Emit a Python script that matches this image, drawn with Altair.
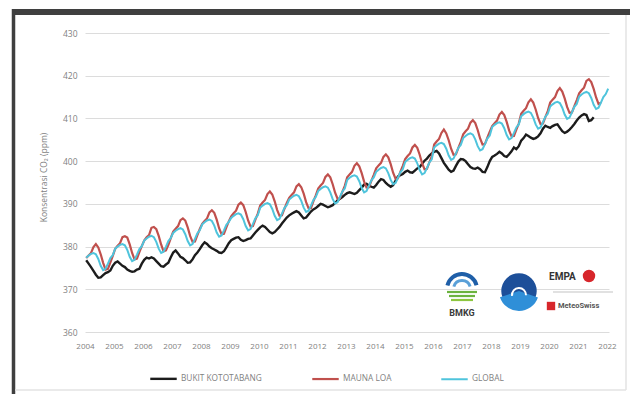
import altair as alt
import pandas as pd

# Monthly mean CO2 (ppm), first value = January 2004
START_YEAR = 2004

bukit_kototabang = [
    376.8, 376.0, 375.2, 374.3, 373.4, 372.7, 372.8, 373.3, 373.8, 374.0, 374.4, 375.5,
    376.2, 376.5, 376.0, 375.5, 375.2, 374.6, 374.3, 374.1, 374.2, 374.6, 374.8, 376.0,
    376.9, 377.4, 377.2, 377.5, 377.2, 376.6, 376.0, 375.4, 375.3, 375.8, 376.2, 377.5,
    378.6, 379.1, 378.4, 377.6, 377.3, 376.8, 376.2, 376.3, 377.0, 378.0, 378.6, 379.4,
    380.3, 381.0, 380.6, 380.0, 379.6, 379.3, 379.0, 378.6, 378.5, 378.9, 379.8, 380.8,
    381.5, 381.8, 382.1, 382.2, 381.6, 381.3, 381.5, 381.8, 381.9, 382.6, 383.3, 383.9,
    384.5, 384.9, 384.6, 384.0, 383.4, 383.1, 383.4, 384.0, 384.6, 385.4, 386.1, 386.8,
    387.3, 387.7, 388.0, 388.3, 388.0, 387.3, 386.6, 386.8, 387.5, 388.2, 388.7, 389.0,
    389.5, 390.0, 389.8, 389.5, 389.2, 389.4, 389.7, 390.2, 390.8, 391.2, 391.6, 392.1,
    392.5, 392.7, 392.5, 392.3, 392.6, 393.2, 393.8, 394.5, 394.7, 394.3, 394.0, 393.8,
    394.4, 395.2, 395.8, 395.6, 394.9, 394.4, 394.0, 394.4, 395.4, 396.4, 396.7, 397.0,
    397.5, 397.8, 397.4, 397.3, 397.8, 398.3, 398.6, 399.4, 400.1, 400.6, 401.3, 401.8,
    402.2, 402.4, 401.8, 400.7, 399.6, 398.8, 398.0, 397.5, 397.8, 398.9, 399.9, 400.5,
    400.4, 400.0, 399.3, 398.6, 398.3, 398.2, 398.5, 398.1, 397.5, 397.4, 398.6, 400.0,
    401.0, 401.3, 401.7, 402.2, 401.8, 401.2, 401.0, 401.6, 402.3, 403.2, 402.8, 403.5,
    404.8, 405.4, 406.2, 405.9, 405.5, 405.2, 405.4, 405.8, 406.5, 407.6, 408.3, 408.0,
    407.8, 408.2, 408.5, 408.6, 407.8, 407.0, 406.6, 406.9, 407.4, 408.0, 408.7, 409.5,
    410.2, 410.7, 411.0, 410.8, 409.4, 409.6, 410.3,
]

mauna_loa = [
    377.3, 377.9, 378.5, 379.9, 380.6, 379.8, 378.2, 376.2, 374.6, 374.8, 376.3, 377.8,
    379.5, 380.2, 380.8, 382.2, 382.4, 382.1, 380.5, 378.5, 377.0, 377.2, 378.7, 380.1,
    381.4, 382.2, 382.7, 384.4, 384.6, 384.1, 382.5, 380.5, 378.9, 379.1, 380.4, 382.0,
    383.5, 384.2, 384.8, 386.2, 386.6, 386.1, 384.5, 382.5, 381.1, 381.2, 382.7, 384.1,
    385.3, 386.0, 386.6, 388.0, 388.5, 387.9, 386.3, 384.3, 382.9, 383.0, 384.5, 385.9,
    387.1, 387.8, 388.4, 389.8, 390.3, 389.7, 388.1, 386.1, 384.7, 384.8, 386.3, 387.7,
    389.6, 390.3, 390.9, 392.3, 392.9, 392.2, 390.6, 388.6, 387.2, 387.3, 388.8, 390.2,
    391.4, 392.1, 392.7, 394.1, 394.6, 393.9, 392.4, 390.4, 389.0, 389.0, 390.6, 392.0,
    393.6, 394.3, 394.9, 396.3, 396.9, 396.2, 394.6, 392.6, 391.2, 391.3, 392.8, 394.2,
    396.2, 396.9, 397.5, 398.9, 399.5, 398.8, 397.2, 395.2, 393.8, 393.9, 395.4, 396.8,
    398.3, 399.0, 399.6, 401.0, 401.6, 400.9, 399.3, 397.3, 395.9, 396.0, 397.5, 398.9,
    400.5, 401.2, 401.8, 403.2, 403.8, 403.1, 401.5, 399.5, 398.1, 398.2, 399.7, 401.1,
    403.9, 404.6, 405.2, 406.6, 407.4, 406.5, 404.9, 402.9, 401.5, 401.6, 403.1, 404.5,
    406.3, 407.0, 407.6, 409.0, 409.6, 408.9, 407.3, 405.3, 403.9, 404.0, 405.5, 406.9,
    408.2, 408.9, 409.5, 410.9, 411.5, 410.8, 409.2, 407.2, 405.8, 405.9, 407.4, 408.8,
    411.1, 411.8, 412.4, 413.8, 414.5, 413.7, 412.1, 410.1, 408.7, 408.8, 410.3, 411.7,
    413.7, 414.4, 415.0, 416.4, 417.1, 416.3, 414.7, 412.7, 411.3, 411.4, 412.9, 414.3,
    415.9, 416.6, 417.2, 418.8, 419.2, 418.5, 416.9, 414.9, 413.4, 413.7,
]

global_mean = [
    377.4, 377.9, 378.3, 378.5, 378.2, 377.1, 375.5, 374.5, 374.8, 376.0, 377.3, 378.0,
    379.5, 380.0, 380.4, 380.6, 380.3, 379.2, 377.6, 376.6, 376.9, 378.1, 379.4, 380.1,
    381.4, 381.9, 382.3, 382.5, 382.2, 381.1, 379.5, 378.5, 378.8, 380.0, 381.3, 382.0,
    383.2, 383.7, 384.1, 384.3, 384.0, 382.9, 381.3, 380.3, 380.6, 381.8, 383.1, 383.8,
    385.2, 385.7, 386.1, 386.3, 386.0, 384.9, 383.3, 382.3, 382.6, 383.8, 385.1, 385.8,
    386.7, 387.2, 387.6, 387.8, 387.5, 386.4, 384.8, 383.8, 384.1, 385.3, 386.6, 387.3,
    389.1, 389.6, 390.0, 390.2, 389.9, 388.8, 387.2, 386.2, 386.5, 387.7, 389.0, 389.7,
    391.0, 391.5, 391.9, 392.1, 391.8, 390.7, 389.1, 388.1, 388.4, 389.6, 390.9, 391.6,
    393.0, 393.5, 393.9, 394.1, 393.8, 392.7, 391.1, 390.1, 390.4, 391.6, 392.9, 393.6,
    395.6, 396.1, 396.5, 396.7, 396.4, 395.3, 393.7, 392.7, 393.0, 394.2, 395.5, 396.2,
    397.5, 398.0, 398.4, 398.6, 398.3, 397.2, 395.6, 394.6, 394.9, 396.1, 397.4, 398.1,
    399.8, 400.3, 400.7, 400.9, 400.6, 399.5, 397.9, 396.9, 397.2, 398.4, 399.7, 400.4,
    403.2, 403.7, 404.1, 404.3, 404.0, 402.9, 401.3, 400.3, 400.6, 401.8, 403.1, 403.8,
    405.4, 405.9, 406.3, 406.5, 406.2, 405.1, 403.5, 402.5, 402.8, 404.0, 405.3, 406.0,
    408.0, 408.5, 408.9, 409.1, 408.8, 407.7, 406.1, 405.1, 405.4, 406.6, 407.9, 408.6,
    410.5, 411.0, 411.4, 411.6, 411.3, 410.2, 408.6, 407.6, 407.9, 409.1, 410.4, 411.1,
    412.8, 413.3, 413.7, 413.9, 413.6, 412.5, 410.9, 409.9, 410.2, 411.4, 412.7, 413.4,
    415.1, 415.6, 416.0, 416.2, 415.9, 414.8, 413.2, 412.2, 412.5, 413.7, 415.0, 415.7,
    417.0,
]

series_names = ["BUKIT KOTOTABANG", "MAUNA LOA", "GLOBAL"]
series_colors = ["#1c1c1c", "#c0504d", "#4fc4dc"]
series_widths = [2.4, 2.0, 2.0]
year_ticks = list(range(2004, 2023))
ppm_ticks = [360, 370, 380, 390, 400, 410, 420, 430]

rows = []
for name, values in zip(series_names, [bukit_kototabang, mauna_loa, global_mean]):
    for i, v in enumerate(values):
        rows.append({"series": name, "t": START_YEAR + (i + 0.5) / 12, "ppm": v})
df = pd.DataFrame(rows)

W, H = 524, 299
GRAY = "#7f7f7f"

lines = alt.Chart(df).mark_line(clip=True).encode(
    x=alt.X(
        "t:Q",
        scale=alt.Scale(domain=[2004, 2022.07], nice=False, zero=False),
        axis=alt.Axis(values=year_ticks, format="d", title=None, grid=False,
                      domain=False, ticks=False, labelFontSize=8, labelColor=GRAY,
                      labelPadding=10, labelFlush=False, labelFont="Open Sans"),
    ),
    y=alt.Y(
        "ppm:Q",
        scale=alt.Scale(domain=[360, 430], nice=False, zero=False),
        axis=alt.Axis(values=ppm_ticks, title="Konsentrasi CO₂ (ppm)", grid=True,
                      gridColor="#dcdcdc", gridWidth=1, domain=False, ticks=False,
                      labelFontSize=8.5, labelColor=GRAY, labelPadding=8,
                      labelFont="Open Sans",
                      titleFontSize=8.5, titleColor=GRAY, titleFontWeight="normal",
                      titleFont="Open Sans", titleAngle=-90, titleX=-42, titleY=144,
                      titleAlign="center", titleBaseline="middle"),
    ),
    color=alt.Color(
        "series:N",
        scale=alt.Scale(domain=series_names, range=series_colors),
        sort=series_names,
        legend=alt.Legend(orient="none", legendX=64, legendY=331, direction="horizontal",
                          title=None, symbolType="stroke", symbolSize=700,
                          symbolStrokeWidth=2.4, labelFontSize=8.3, labelColor=GRAY,
                          labelFont="Open Sans", columnPadding=45, labelOffset=3),
    ),
    strokeWidth=alt.StrokeWidth(
        "series:N", scale=alt.Scale(domain=series_names, range=series_widths), legend=None
    ),
)

one = pd.DataFrame({"k": [0]})


def rule(x, x2, y, y2, color, width):
    return alt.Chart(one).mark_rule(color=color, strokeWidth=width).encode(
        x=alt.value(x), x2=alt.value(x2), y=alt.value(y), y2=alt.value(y2)
    )


# frame around the figure
frame = alt.layer(
    rule(-73, 545, -21, -21, "#3f3f3f", 6),
    rule(-71.5, -71.5, -24, 361, "#3f3f3f", 3.5),
    rule(541, 541, -18, 357, "#e3e3e3", 1.5),
    rule(-70, 541, 357, 357, "#e3e3e3", 1.5),
)

# partner logos (simplified)
bmkg_arcs = alt.layer(
    alt.Chart(one).mark_arc(color="#1f5fa8", innerRadius=13, outerRadius=17,
                            theta=4.95, theta2=7.6).encode(
        x=alt.value(377), y=alt.value(256)),
    alt.Chart(one).mark_arc(color="#5aa0d8", innerRadius=7, outerRadius=10,
                            theta=5.0, theta2=7.55).encode(
        x=alt.value(377), y=alt.value(256)),
)
bmkg_stripes = alt.layer(
    rule(362, 392, 259, 259, "#6cb33f", 2.2),
    rule(364, 390, 263, 263, "#6cb33f", 2.2),
    rule(366, 388, 267, 267, "#8cc63f", 2.2),
)
bmkg_text = alt.Chart(one).mark_text(text="BMKG", fontSize=9, fontWeight="bold",
                                     color="#3a3a3a", font="Roboto").encode(
    x=alt.value(377), y=alt.value(280))

noaa = alt.layer(
    alt.Chart(one).mark_point(shape="circle", filled=True, size=1257, color="#1d4f99",
                              opacity=1).encode(x=alt.value(434), y=alt.value(258)),
    alt.Chart(one).mark_arc(color="#2f8fd8", outerRadius=20, theta=1.9,
                            theta2=4.4).encode(x=alt.value(434), y=alt.value(258)),
    alt.Chart(one).mark_arc(color="#ffffff", innerRadius=6, outerRadius=8, theta=4.6,
                            theta2=7.9).encode(x=alt.value(434), y=alt.value(262)),
)

empa = alt.layer(
    alt.Chart(one).mark_text(text="EMPA", fontSize=10, fontWeight="bold", color="#333333",
                             align="left", font="Roboto").encode(
        x=alt.value(464), y=alt.value(244)),
    alt.Chart(one).mark_point(shape="circle", filled=True, size=154, color="#d7262b",
                              opacity=1).encode(x=alt.value(504), y=alt.value(243)),
    rule(468, 528, 259, 259, "#9a9a9a", 0.6),
    alt.Chart(one).mark_point(shape="square", filled=True, size=70, color="#d7262b",
                              opacity=1).encode(x=alt.value(466), y=alt.value(273)),
    alt.Chart(one).mark_text(text="MeteoSwiss", fontSize=7.5, fontWeight="bold",
                             color="#555555", align="left", font="Roboto").encode(
        x=alt.value(473), y=alt.value(273)),
)

chart = alt.layer(
    lines, frame, bmkg_arcs, bmkg_stripes, bmkg_text, noaa, empa
).properties(
    width=W,
    height=H,
    autosize=alt.AutoSizeParams(type="none"),
    padding={"left": 85, "top": 33, "right": 21, "bottom": 62},
    background="white",
).configure_view(strokeWidth=0)

chart.save("out.html", embed_options={"renderer": "svg", "actions": False})
